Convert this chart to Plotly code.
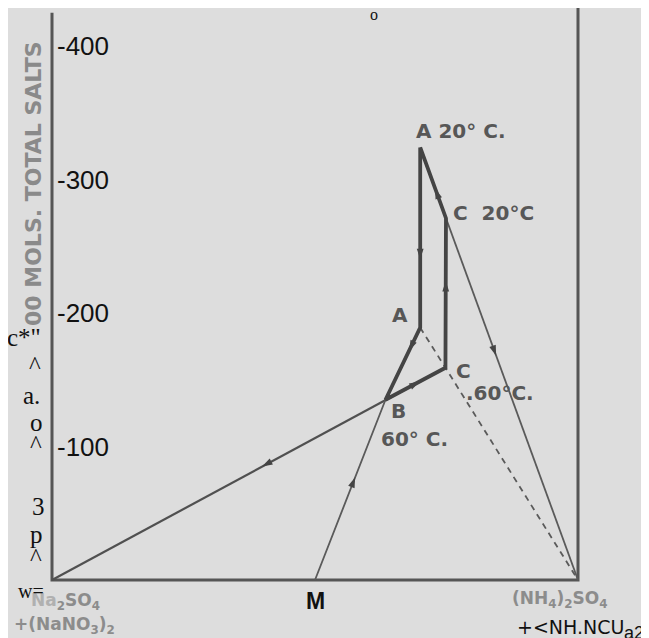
import math
import plotly.graph_objects as go

# ---------------- data ----------------
# composition: % (NH4)2 salts (x), mols water per 100 mols total salts (y)
point_names = ["A 20°C", "A 60°C", "B 60°C", "C 60°C", "C 20°C", "M", "Na corner", "NH4 corner"]
point_x = [70.0, 70.0, 63.4, 74.8, 74.9, 50.0, 0.0, 100.0]
point_y = [324.0, 189.0, 135.0, 159.0, 271.0, 0.0, 0.0, 0.0]

# cycle A20 -> A60 -> B60 -> C60 -> C20 -> A20
cycle_order = ["A 20°C", "A 60°C", "B 60°C", "C 60°C", "C 20°C", "A 20°C"]
y_tick_values = [100, 200, 300, 400]
y_tick_labels = ["-100", "-200", "-300", "-400"]
axis_top = 428.0

P = {n: (x, y) for n, x, y in zip(point_names, point_x, point_y)}

# ---------------- figure geometry ----------------
W, H = 649, 638
X0PX, Y0PX = 44, 572          # pixel position of the origin
SX, SY = 5.26, 1.335          # pixels per data unit
xr = [-X0PX / SX, (W - X0PX) / SX]
yr = [-(H - Y0PX) / SY, Y0PX / SY]

LINE = "#4a4a4a"
BG = "#dddddd"

fig = go.Figure()

def seg(names_or_pts, width, dash="solid", color=LINE):
    xs, ys = [], []
    for p in names_or_pts:
        x, y = P[p] if isinstance(p, str) else p
        xs.append(x); ys.append(y)
    fig.add_trace(go.Scatter(x=xs, y=ys, mode="lines", hoverinfo="skip",
                             line=dict(color=color, width=width, dash=dash),
                             showlegend=False))

# frame
seg([(0, axis_top - 3), "Na corner", "NH4 corner", (100, axis_top + 5)], 3, color="#555555")

# thin construction lines
seg(["A 20°C", "NH4 corner"], 1.8, color="#5a5a5a")
seg(["A 60°C", "C 60°C", "NH4 corner"], 1.8, dash="6px,5px", color="#5a5a5a")
seg(["Na corner", "B 60°C", "C 60°C"], 2.2, color="#505050")
seg(["M", "B 60°C", "A 60°C"], 1.8, color="#5a5a5a")

# thick cycle
seg(cycle_order, 3.8, color="#444444")

# arrows along segments (start, end, fraction)
arrow_specs = [
    ("A 20°C", "A 60°C", 0.62),
    ("A 60°C", "B 60°C", 0.32),
    ("B 60°C", "C 60°C", 0.57),
    ("C 60°C", "C 20°C", 0.58),
    ("C 20°C", "A 20°C", 0.42),
    ("C 20°C", "NH4 corner", 0.38),
    ("B 60°C", "Na corner", 0.37),
    ("M", "B 60°C", 0.57),
]
ax_, ay_, aang = [], [], []
for a, b, f in arrow_specs:
    (x1, y1), (x2, y2) = P[a], P[b]
    ax_.append(x1 + f * (x2 - x1)); ay_.append(y1 + f * (y2 - y1))
    dxp = (x2 - x1) * SX
    dyp = -(y2 - y1) * SY
    aang.append(math.degrees(math.atan2(dxp, -dyp)))
fig.add_trace(go.Scatter(x=ax_, y=ay_, mode="markers", hoverinfo="skip", showlegend=False,
                         marker=dict(symbol="arrow", size=11, angle=aang, color="#444444",
                                     line=dict(width=0))))

# ---------------- text ----------------
LAB = dict(family="DejaVu Sans, Verdana, sans-serif", size=20, color="#575757")

def lab(name, text, xshift, yshift, xanchor="center", font=LAB):
    x, y = P[name]
    fig.add_annotation(x=x, y=y, text=text, showarrow=False, xanchor=xanchor,
                       yanchor="middle", xshift=xshift, yshift=yshift, font=font)

lab("A 20°C", "<b>A 20° C.</b>", -6, 16, "left")
lab("C 20°C", "<b>C  20°C</b>", 5, 5, "left")
lab("A 60°C", "<b>A</b>", -20, 13)
lab("C 60°C", "<b>C</b>", 18, -3)
lab("C 60°C", "<b>.60°C.</b>", 19, -25, "left")
lab("B 60°C", "<b>B</b>", 13, -11)
lab("B 60°C", "<b>60° C.</b>", -6, -39, "left")
lab("M", "<b>M</b>", 0, -21, font=dict(family="Liberation Sans, Arial, sans-serif",
                                       size=23, color="#111111"))

for v, t in zip(y_tick_values, y_tick_labels):
    fig.add_annotation(x=0, y=v, text=t, showarrow=False, xanchor="left", yanchor="middle",
                       xshift=3, font=dict(family="Liberation Sans, Arial, sans-serif",
                                           size=26, color="#111111"))

def pp(xp, yp):
    return xp / W, 1 - yp / H

def ptext(xp, yp, text, font, xanchor="center", angle=0):
    x, y = pp(xp, yp)
    fig.add_annotation(x=x, y=y, xref="paper", yref="paper", text=text, showarrow=False,
                       xanchor=xanchor, yanchor="middle", textangle=angle, font=font)

GRAYB = dict(family="DejaVu Sans, Verdana, sans-serif", size=22, color="#8a8a8a")
ptext(25, 176, "<b>00 MOLS. TOTAL SALTS</b>", GRAYB, angle=-90)

SERIF = dict(family="Liberation Serif, Times New Roman, serif", size=25, color="#111111")
for xp, yp, t in [(16, 329, "c*\""), (27, 357, "^"), (23, 388, "a."), (28, 414, "o"),
                  (28, 436, "^"), (30, 498, "3"), (28, 526, "p"), (28, 549, "^")]:
    ptext(xp, yp, t, SERIF)
ptext(366, 6, "o", dict(family="Liberation Serif, Times New Roman, serif", size=16, color="#111111"))

CHEM = dict(family="DejaVu Sans, Verdana, sans-serif", size=17, color="#8c8c8c")
ptext(94, 593, "<b><span style='color:#b0b0b0'>Na</span><sub>2</sub>SO<sub>4</sub></b>",
      CHEM, xanchor="right")
ptext(4, 617, "<b>+(NaNO<sub>3</sub>)<sub>2</sub></b>", CHEM, xanchor="left")
ptext(502, 591, "<b>(NH<sub>4</sub>)<sub>2</sub>SO<sub>4</sub></b>", CHEM, xanchor="left")
ptext(23, 583, "w=", dict(family="Liberation Serif, Times New Roman, serif", size=20, color="#111111"))
ptext(507, 619, "+&lt;NH.NCU", dict(family="DejaVu Sans, Verdana, sans-serif",
                                    size=19, color="#111111"), xanchor="left")
ptext(614, 625, "a2", dict(family="Liberation Sans, Arial, sans-serif",
                            size=18, color="#111111"), xanchor="left")

fig.update_layout(
    width=W, height=H, margin=dict(l=0, r=0, t=0, b=0),
    paper_bgcolor=BG, plot_bgcolor=BG, showlegend=False,
    xaxis=dict(range=xr, visible=False, fixedrange=True),
    yaxis=dict(range=yr, visible=False, fixedrange=True),
)

fig.write_html("out.html")
